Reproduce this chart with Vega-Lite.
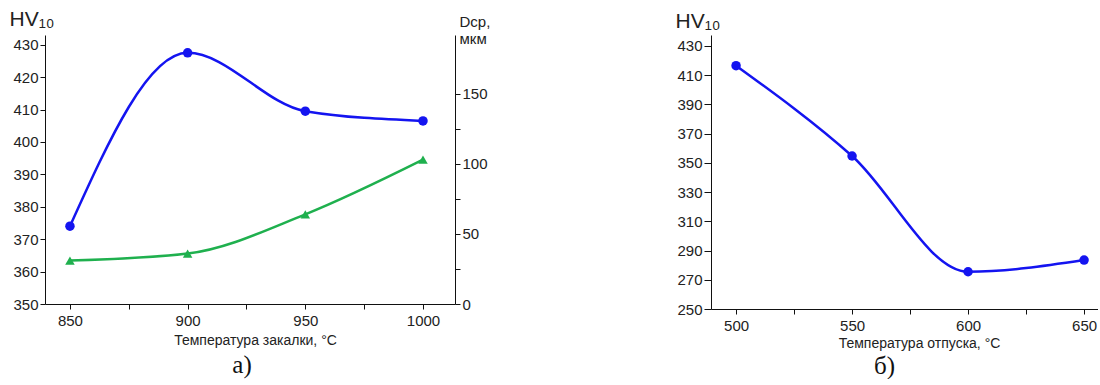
{
  "$schema": "https://vega.github.io/schema/vega-lite/v6.json",
  "padding": {"left": 9, "top": 8, "right": 0, "bottom": 0},
  "spacing": 185,
  "config": {
    "view": {"stroke": null},
    "font": "Liberation Sans",
    "axis": {
      "domainColor": "#111",
      "tickColor": "#111",
      "labelColor": "#222",
      "labelFontSize": 15,
      "titleFontSize": 14,
      "titleFontWeight": "normal",
      "titleColor": "#222",
      "grid": false,
      "tickSize": 5,
      "labelPadding": 2
    },
    "title": {"font": "Liberation Serif", "fontSize": 25, "fontWeight": "normal", "color": "#111"}
  },
  "datasets": {
    "quench": [
      {"t": 850, "hv": 374, "d": 31},
      {"t": 900, "hv": 427.5, "d": 36},
      {"t": 950, "hv": 409.5, "d": 64},
      {"t": 1000, "hv": 406.5, "d": 103}
    ],
    "temper": [
      {"t": 500, "hv": 416.5},
      {"t": 550, "hv": 354.7},
      {"t": 600, "hv": 275.5},
      {"t": 650, "hv": 283.5}
    ]
  },
  "hconcat": [
    {
      "width": 410,
      "height": 269,
      "title": {"text": "а)", "orient": "bottom", "offset": 6, "dx": -8},
      "data": {"name": "quench"},
      "layer": [
        {
          "mark": {"type": "line", "interpolate": "monotone", "color": "#1414f0", "strokeWidth": 2.5,
                   "point": {"filled": true, "size": 90, "color": "#1414f0"}},
          "encoding": {
            "x": {"field": "t", "type": "quantitative",
                  "scale": {"domain": [839.4, 1013.6], "nice": false, "zero": false},
                  "axis": {"values": [850, 875, 900, 925, 950, 975, 1000], "format": "d",
                           "labelExpr": "datum.value % 50 == 0 ? datum.label : ''",
                           "labelPadding": 4,
                           "title": "Температура закалки, °C", "titleX": 210, "titleY": 29, "titleBaseline": "top"}},
            "y": {"field": "hv", "type": "quantitative",
                  "scale": {"domain": [350, 433], "nice": false, "zero": false},
                  "axis": {"values": [350, 360, 370, 380, 390, 400, 410, 420, 430],
                           "title": "HV₁₀", "titleAngle": 0, "titleAlign": "left", "titleBaseline": "bottom",
                           "titleX": -36, "titleY": -6, "titleFontSize": 21}}
          }
        },
        {
          "mark": {"type": "line", "interpolate": "monotone", "color": "#1fb04e", "strokeWidth": 2.5,
                   "point": {"filled": true, "size": 90, "shape": "triangle-up", "color": "#1fb04e"}},
          "encoding": {
            "x": {"field": "t", "type": "quantitative"},
            "y": {"field": "d", "type": "quantitative",
                  "scale": {"domain": [0, 192], "nice": false, "zero": true},
                  "axis": {"orient": "right", "values": [0, 25, 50, 75, 100, 125, 150],
                           "labelExpr": "datum.value % 50 == 0 ? datum.label : ''",
                           "title": ["Dср,", "мкм"], "titleAngle": 0, "titleAlign": "left", "titleBaseline": "top",
                           "titleX": 4, "titleY": -21, "titleFontSize": 15}}
          }
        }
      ],
      "resolve": {"scale": {"y": "independent"}}
    },
    {
      "width": 387,
      "height": 274,
      "title": {"text": "б)", "orient": "bottom", "offset": 4, "dx": -20},
      "data": {"name": "temper"},
      "mark": {"type": "line", "interpolate": "monotone", "color": "#1414f0", "strokeWidth": 2.5,
               "point": {"filled": true, "size": 90, "color": "#1414f0"}},
      "encoding": {
        "x": {"field": "t", "type": "quantitative",
              "scale": {"domain": [489.2, 656], "nice": false, "zero": false},
              "axis": {"values": [500, 525, 550, 575, 600, 625, 650], "format": "d",
                       "labelExpr": "datum.value % 50 == 0 ? datum.label : ''",
                       "labelPadding": 4,
                       "title": "Температура отпуска, °C", "titleX": 208, "titleY": 27, "titleBaseline": "top"}},
        "y": {"field": "hv", "type": "quantitative",
              "scale": {"domain": [250, 437.5], "nice": false, "zero": false},
              "axis": {"values": [250, 270, 290, 310, 330, 350, 370, 390, 410, 430],
                       "tickSize": 7,
                       "title": "HV₁₀", "titleAngle": 0, "titleAlign": "left", "titleBaseline": "bottom",
                       "titleX": -36, "titleY": -4, "titleFontSize": 21}}
      }
    }
  ]
}
